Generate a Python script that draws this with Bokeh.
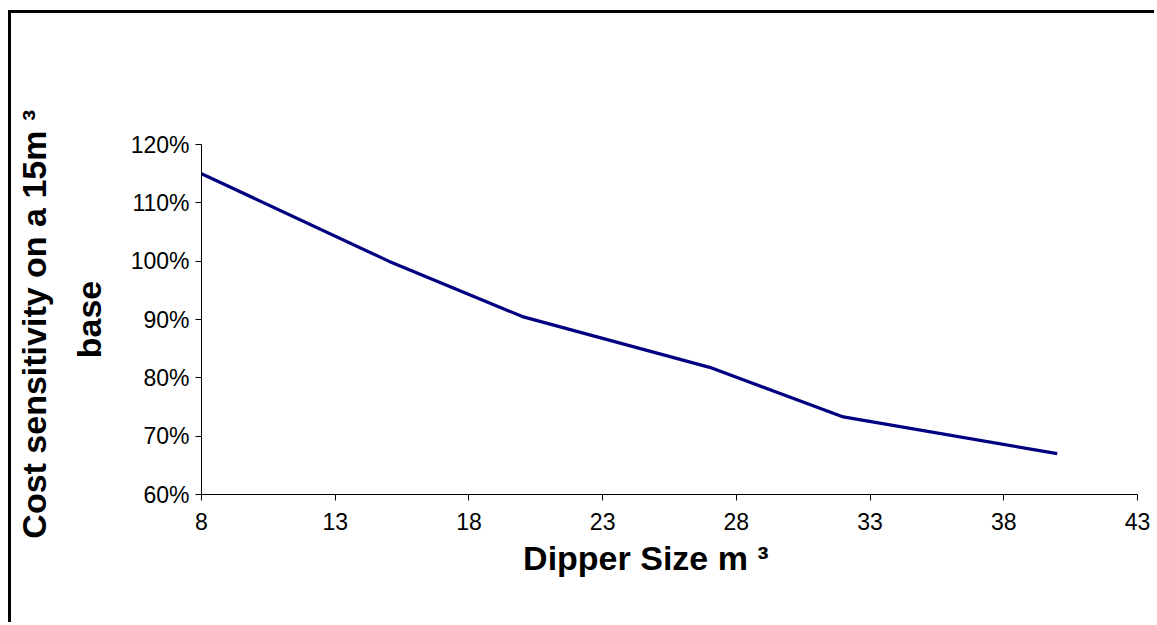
from bokeh.plotting import figure
from bokeh.models import (ColumnDataSource, FixedTicker, NumeralTickFormatter, Range1d)
from bokeh.embed import file_html
from bokeh.resources import INLINE

# ---- data ----
dipper_size = [8, 15, 20, 27, 32, 40]
cost_sensitivity = [1.15, 1.00, 0.905, 0.818, 0.733, 0.67]
x_ticks = [8, 13, 18, 23, 28, 33, 38, 43]
y_ticks = [0.6, 0.7, 0.8, 0.9, 1.0, 1.1, 1.2]
x_title = "Dipper Size m \u00b3"
y_title = "Cost sensitivity on a 15m  \u00b3\nbase"

FONT = "Liberation Sans"

# canvas sits inside a 3px left/top border, offset from the window edge
p = figure(width=1146, height=612, output_backend="svg", toolbar_location=None,
           x_range=Range1d(8, 43), y_range=Range1d(0.6, 1.2),
           min_border_left=190, min_border_right=20,
           min_border_top=131, min_border_bottom=131)
p.styles = {"border-left": "3px solid black", "border-top": "3px solid black",
            "margin-left": "8px", "margin-top": "10px"}
p.background_fill_color = "white"
p.border_fill_color = "white"
p.outline_line_color = None
p.xgrid.grid_line_color = None
p.ygrid.grid_line_color = None

src = ColumnDataSource(dict(x=dipper_size, y=cost_sensitivity))
p.line("x", "y", source=src, line_color="#000080", line_width=3.2)

for ax in (p.xaxis[0], p.yaxis[0]):
    ax.axis_line_color = "black"
    ax.axis_line_width = 1
    ax.major_tick_line_color = "black"
    ax.major_tick_out = 6
    ax.major_tick_in = 0
    ax.minor_tick_line_color = None
    ax.major_label_text_font = FONT
    ax.major_label_text_font_size = "23px"
    ax.major_label_text_color = "black"
    ax.axis_label_text_font = FONT
    ax.axis_label_text_font_style = "bold"
    ax.axis_label_text_font_size = "34px"
    ax.axis_label_text_color = "black"

p.xaxis.ticker = FixedTicker(ticks=x_ticks)
p.yaxis.ticker = FixedTicker(ticks=y_ticks)
p.yaxis.formatter = NumeralTickFormatter(format="0%")
p.xaxis.major_label_standoff = 12
p.yaxis.major_label_standoff = 6

# trailing no-break spaces shift the centred title left, as in the original
p.xaxis.axis_label = x_title + "\u00a0" * 5
p.xaxis.axis_label_standoff = 6
p.yaxis.axis_label = y_title
p.yaxis.axis_label_standoff = 20
p.yaxis.axis_label_text_line_height = 1.45

open("out.html", "w").write(file_html(p, INLINE))
